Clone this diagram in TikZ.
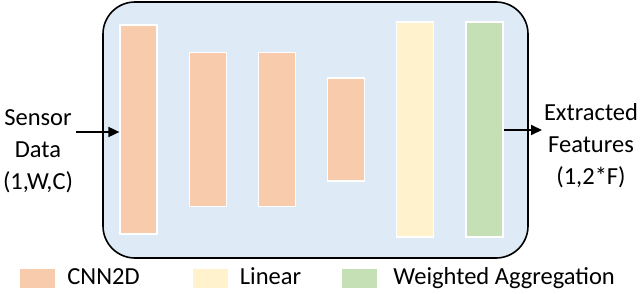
\documentclass[tikz,border=0pt]{standalone}
\usepackage{fontspec}
\setmainfont{Carlito}
\usetikzlibrary{arrows.meta,positioning}
\definecolor{FrameBlue}{RGB}{222,235,247}
\definecolor{ConvOrange}{RGB}{248,203,173}
\definecolor{LinYellow}{RGB}{255,242,204}
\definecolor{AggGreen}{RGB}{197,224,180}
\tikzset{
  framebox/.style={draw=black,fill=FrameBlue,line width=1.6pt,
    rounded corners=32pt,minimum width=425pt,minimum height=256pt},
  layer/.style={draw=white,line width=1.2pt,minimum width=37pt,inner sep=0pt},
  conv/.style={layer,fill=ConvOrange},
  linear/.style={layer,fill=LinYellow},
  agg/.style={layer,fill=AggGreen},
  swatch/.style={minimum width=35pt,minimum height=19pt,inner sep=0pt},
  txt/.style={align=center,inner sep=2pt},
  keytxt/.style={text height=17pt,text depth=5pt,inner sep=2pt},
  arrow/.style={-{Triangle[length=11pt,width=10pt]},line width=1.8pt}
}
\begin{document}
\begin{tikzpicture}[x=1pt,y=-1pt,node distance=31pt,
    font=\fontsize{24.5}{32}\selectfont]
  \useasboundingbox (0,0) rectangle (640,294);
  \node[framebox] (box) at (315.5,130) {};

  % layers
  \node[conv,minimum height=209pt] (conv1) at (138.5,129.5) {};
  \node[conv,minimum height=154pt,right=of conv1] (conv2) {};
  \node[conv,minimum height=154pt,right=of conv2] (conv3) {};
  \node[conv,minimum height=103pt,right=of conv3] (conv4) {};
  \node[linear,minimum height=215pt,right=of conv4] (lin) {};
  \node[agg,minimum height=215pt,right=of lin] (agg) {};

  % input / output
  \node[txt] (input) at (38,151) {Sensor\\Data\\(1,W,C)};
  \node[txt] (output) at (591,146) {Extracted\\Features\\(1,2*F)};
  \coordinate (in) at (76,132);
  \coordinate (out) at (542,130);
  \draw[arrow] (in) -- (in -| conv1.west);
  \draw[arrow] (agg.east |- out) -- (out);

  % legend
  \node[swatch,fill=ConvOrange] (keyconv) at (37.5,278) {};
  \node[keytxt,right=10pt of keyconv] (keyconvtxt) {CNN2D};
  \node[swatch,fill=LinYellow] (keylin) at (210,278) {};
  \node[keytxt,right=10pt of keylin] (keylintxt) {Linear};
  \node[swatch,fill=AggGreen] (keyagg) at (359.5,278) {};
  \node[keytxt,right=14pt of keyagg] (keyaggtxt) {Weighted Aggregation};
\end{tikzpicture}
\end{document}
